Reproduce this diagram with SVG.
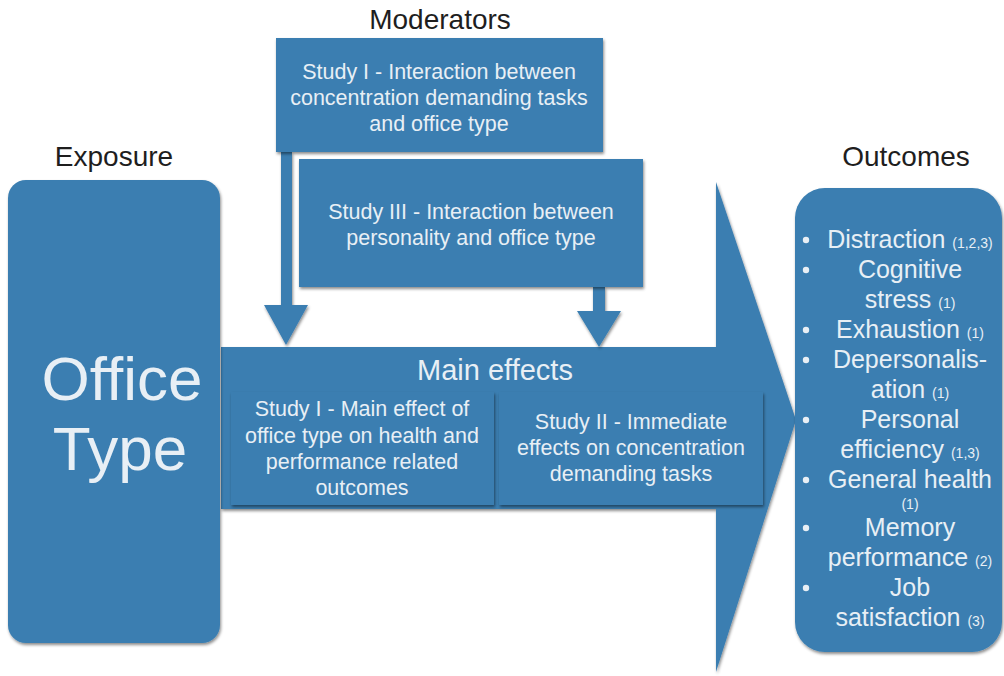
<svg xmlns="http://www.w3.org/2000/svg" width="1004" height="676" viewBox="0 0 1004 676">
<defs>
<filter id="sh" x="-10%" y="-10%" width="120%" height="120%">
<feDropShadow dx="1" dy="2" stdDeviation="1.8" flood-color="#000" flood-opacity="0.45"/>
</filter>
</defs>
<style>
.b{fill:#3a7eb1;filter:url(#sh)}
.h{font-family:"Liberation Sans",Arial,sans-serif;font-size:28px;fill:#1e1e1e;text-anchor:middle}
.t{font-family:"Liberation Sans",Arial,sans-serif;font-size:21.5px;fill:#e8eff5;text-anchor:middle}
.o{font-family:"Liberation Sans",Arial,sans-serif;font-size:25px;fill:#e8eff5;text-anchor:middle}
.s{font-size:14px}
.d{fill:#e8eff5}
</style>
<rect width="1004" height="676" fill="#fff"/>
<text class="h" x="440" y="29">Moderators</text>
<text class="h" x="114" y="166">Exposure</text>
<text class="h" x="906" y="166">Outcomes</text>

<g id="main-effects">
<polygon class="b" points="221,347 716,347 716,182 796,420 716,672 716,509 221,509"/>
<text class="t" x="495" y="380" style="font-size:29px">Main effects</text>
</g>

<g id="study1-main">
<rect class="b" x="231" y="392" width="263" height="113"/>
<text class="t" x="362" y="416">Study I - Main effect of</text>
<text class="t" x="362" y="443">office type on health and</text>
<text class="t" x="362" y="469">performance related</text>
<text class="t" x="362" y="495">outcomes</text>
</g>

<g id="study2-main">
<rect class="b" x="499" y="392" width="264" height="113"/>
<text class="t" x="631" y="429">Study II - Immediate</text>
<text class="t" x="631" y="455">effects on concentration</text>
<text class="t" x="631" y="481">demanding tasks</text>
</g>

<g id="exposure">
<rect class="b" x="8" y="180" width="212" height="463" rx="18"/>
<text class="t" x="122" y="400" style="font-size:62px">Office</text>
<text class="t" x="120" y="470" style="font-size:62px">Type</text>
</g>

<g id="connectors">
<polygon class="b" points="281,152 292,152 292,305 308,305 286,345 264,305 281,305"/>
<polygon class="b" points="593,287 605,287 605,311 621,311 599,347 577,311 593,311"/>
</g>

<g id="moderator-study1">
<rect class="b" x="276" y="38" width="327" height="114"/>
<text class="t" x="439" y="79">Study I - Interaction between</text>
<text class="t" x="439" y="105">concentration demanding tasks</text>
<text class="t" x="439" y="131">and office type</text>
</g>

<g id="moderator-study3">
<rect class="b" x="299" y="159" width="344" height="128"/>
<text class="t" x="471" y="219">Study III - Interaction between</text>
<text class="t" x="471" y="245">personality and office type</text>
</g>

<g id="outcomes">
<rect class="b" x="795" y="188" width="207" height="464" rx="30"/>
<circle class="d" cx="806" cy="240" r="3.2"/>
<circle class="d" cx="806" cy="270" r="3.2"/>
<circle class="d" cx="806" cy="330" r="3.2"/>
<circle class="d" cx="806" cy="360" r="3.2"/>
<circle class="d" cx="806" cy="420" r="3.2"/>
<circle class="d" cx="806" cy="480" r="3.2"/>
<circle class="d" cx="806" cy="528" r="3.2"/>
<circle class="d" cx="806" cy="588" r="3.2"/>
<text class="o" x="910" y="248">Distraction <tspan class="s">(1,2,3)</tspan></text>
<text class="o" x="910" y="278">Cognitive</text>
<text class="o" x="910" y="308">stress <tspan class="s">(1)</tspan></text>
<text class="o" x="910" y="338">Exhaustion <tspan class="s">(1)</tspan></text>
<text class="o" x="910" y="368">Depersonalis-</text>
<text class="o" x="910" y="398">ation <tspan class="s">(1)</tspan></text>
<text class="o" x="910" y="428">Personal</text>
<text class="o" x="910" y="458">efficiency <tspan class="s">(1,3)</tspan></text>
<text class="o" x="910" y="488">General health</text>
<text class="o s" x="910" y="509">(1)</text>
<text class="o" x="910" y="536">Memory</text>
<text class="o" x="910" y="566">performance <tspan class="s">(2)</tspan></text>
<text class="o" x="910" y="596">Job</text>
<text class="o" x="910" y="626">satisfaction <tspan class="s">(3)</tspan></text>
</g>
</svg>
